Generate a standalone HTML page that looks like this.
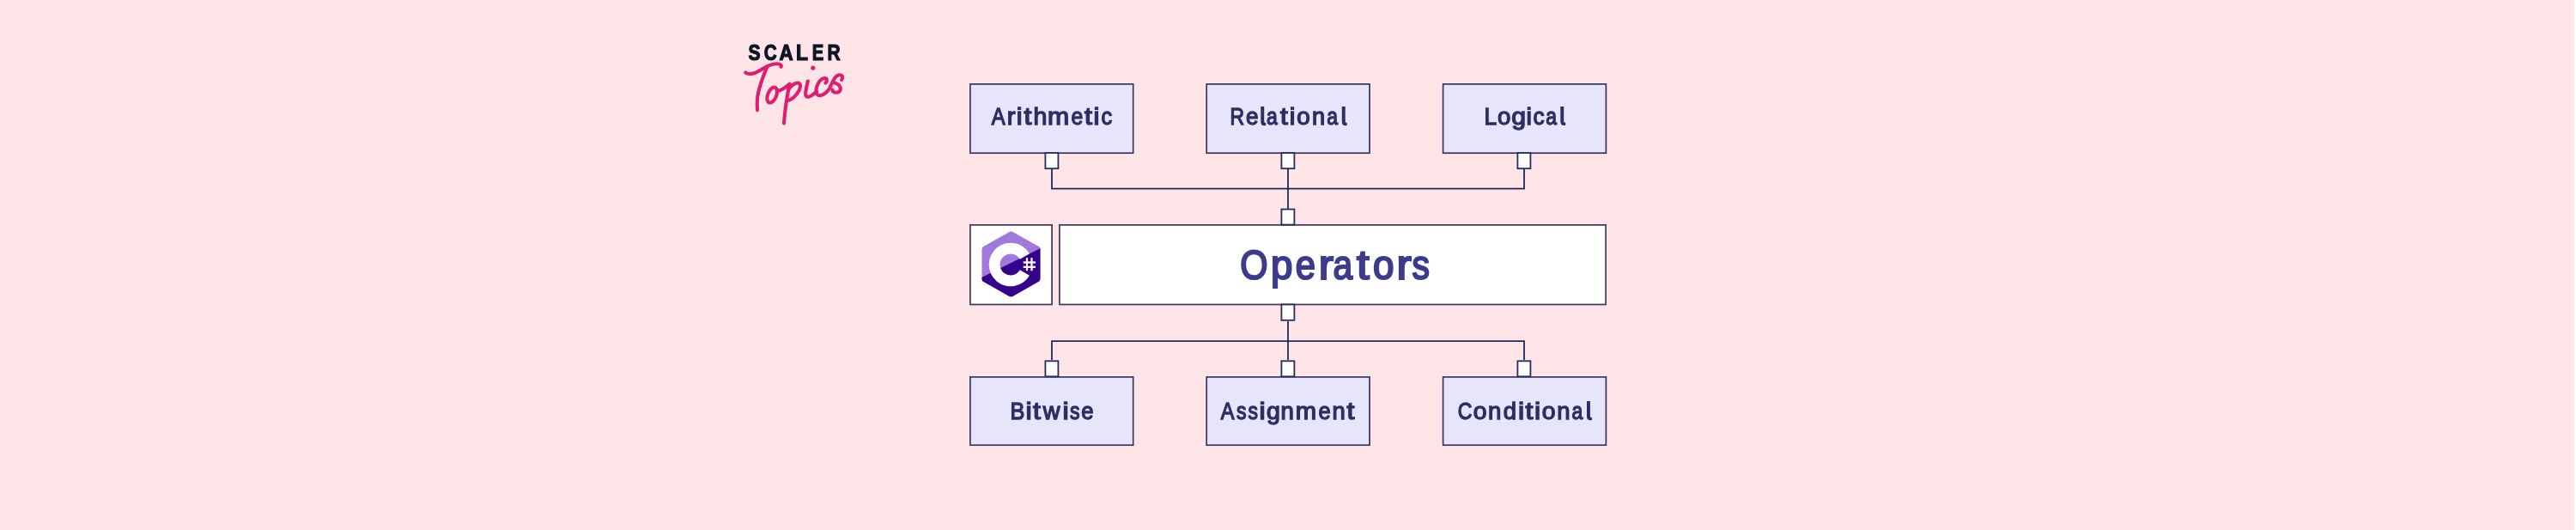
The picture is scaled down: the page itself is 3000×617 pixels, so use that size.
<!DOCTYPE html>
<html>
<head>
<meta charset="utf-8">
<style>
html,body{margin:0;padding:0;}
body{width:3000px;height:617px;background:#ffe4e8;overflow:hidden;position:relative;font-family:"Liberation Sans", sans-serif;}
svg{position:absolute;left:0;top:0;will-change:transform;}
</style>
</head>
<body>
<svg width="3000" height="617" viewBox="0 0 3000 617">
  <rect x="2994" y="0" width="4" height="617" fill="#fde6e9"/>
  <rect x="2998" y="0" width="2" height="617" fill="#fffffb"/>
  <g stroke="#1c2b5c" stroke-width="1.8" fill="none">
    <path d="M1225 197V219.7H1775V197"/>
    <path d="M1500 197V243"/>
    <path d="M1225 419V397.1H1775V419"/>
    <path d="M1500 374V419"/>
  </g>
  <g fill="#e7e5fc" stroke="#3a365f" stroke-width="1.7">
    <rect x="1129.9" y="97.9" width="189.8" height="80.3"/>
    <rect x="1405.2" y="97.9" width="189.8" height="80.3"/>
    <rect x="1680.6" y="97.9" width="189.8" height="80.3"/>
    <rect x="1129.9" y="438.9" width="189.8" height="79.3"/>
    <rect x="1405.2" y="438.9" width="189.8" height="79.3"/>
    <rect x="1680.6" y="438.9" width="189.8" height="79.3"/>
  </g>
  <g fill="#ffffff" stroke="#3a365f" stroke-width="1.7">
    <rect x="1129.9" y="261.9" width="95.2" height="92.6"/>
    <rect x="1233.9" y="261.9" width="636.2" height="92.6"/>
  </g>
  <g fill="#ffffff" stroke="#262c5c" stroke-width="1.8">
    <rect x="1217.4" y="178" width="15" height="18.2"/>
    <rect x="1492.4" y="178" width="15" height="18.2"/>
    <rect x="1767.4" y="178" width="15" height="18.2"/>
    <rect x="1492.4" y="243.6" width="15" height="18"/>
    <rect x="1492.4" y="354.5" width="15" height="18.3"/>
    <rect x="1217.4" y="420.3" width="15" height="18"/>
    <rect x="1492.4" y="420.3" width="15" height="18"/>
    <rect x="1767.4" y="420.3" width="15" height="18"/>
  </g>
  <g font-family="Liberation Sans" font-size="28" fill="#2f2d62" stroke="#2f2d62" stroke-width="1.4">
    <text transform="translate(1154.65 145.40) scale(0.849 1.000)">A</text>
    <text transform="translate(1172.80 145.42) scale(1.042 0.970)">r</text>
    <text transform="translate(1183.63 145.42) scale(1.093 0.970)">i</text>
    <text transform="translate(1192.40 145.42) scale(1.150 0.970)">t</text>
    <text transform="translate(1203.53 145.42) scale(1.019 0.970)">h</text>
    <text transform="translate(1220.12 145.42) scale(1.078 0.970)">m</text>
    <text transform="translate(1247.56 145.42) scale(0.883 0.970)">e</text>
    <text transform="translate(1263.10 145.42) scale(1.150 0.970)">t</text>
    <text transform="translate(1273.50 145.42) scale(1.120 0.970)">i</text>
    <text transform="translate(1282.45 145.42) scale(0.904 0.970)">c</text>
    <text transform="translate(1432.53 145.40) scale(0.820 1.000)">R</text>
    <text transform="translate(1451.03 145.42) scale(0.931 0.970)">e</text>
    <text transform="translate(1475.08 145.42) scale(0.820 0.970)">a</text>
    <text transform="translate(1490.88 145.42) scale(1.129 0.970)">t</text>
    <text transform="translate(1501.77 145.42) scale(1.067 0.970)">i</text>
    <text transform="translate(1510.20 145.42) scale(0.993 0.970)">o</text>
    <text transform="translate(1528.03 145.42) scale(0.970 0.970)">n</text>
    <text transform="translate(1545.23 145.42) scale(0.820 0.970)">a</text>
    <text transform="translate(1728.59 145.20) scale(0.938 1.000)">L</text>
    <text transform="translate(1743.91 145.22) scale(0.986 0.970)">o</text>
    <text transform="translate(1760.26 145.22) scale(1.079 0.970)">g</text>
    <text transform="translate(1777.50 145.22) scale(1.040 0.970)">i</text>
    <text transform="translate(1785.43 145.22) scale(0.933 0.970)">c</text>
    <text transform="translate(1800.23 145.22) scale(0.820 0.970)">a</text>
    <text transform="translate(1176.45 488.40) scale(0.903 1.000)">B</text>
    <text transform="translate(1194.41 488.42) scale(1.150 0.970)">i</text>
    <text transform="translate(1203.10 488.42) scale(1.150 0.970)">t</text>
    <text transform="translate(1214.78 488.42) scale(0.975 0.970)">w</text>
    <text transform="translate(1237.51 488.42) scale(1.150 0.970)">i</text>
    <text transform="translate(1246.00 488.42) scale(0.822 0.970)">s</text>
    <text transform="translate(1259.14 488.42) scale(0.917 0.970)">e</text>
    <text transform="translate(1421.84 488.40) scale(0.839 1.000)">A</text>
    <text transform="translate(1440.11 488.42) scale(0.820 0.970)">s</text>
    <text transform="translate(1453.51 488.42) scale(0.820 0.970)">s</text>
    <text transform="translate(1466.57 488.42) scale(1.147 0.970)">i</text>
    <text transform="translate(1474.99 488.42) scale(1.021 0.970)">g</text>
    <text transform="translate(1491.51 488.42) scale(0.985 0.970)">n</text>
    <text transform="translate(1508.66 488.42) scale(1.045 0.970)">m</text>
    <text transform="translate(1535.44 488.42) scale(0.910 0.970)">e</text>
    <text transform="translate(1551.42 488.42) scale(0.978 0.970)">n</text>
    <text transform="translate(1568.55 488.42) scale(1.150 0.970)">t</text>
    <text transform="translate(1697.68 488.40) scale(0.821 1.000)">C</text>
    <text transform="translate(1715.69 488.42) scale(1.014 0.970)">o</text>
    <text transform="translate(1733.11 488.42) scale(0.985 0.970)">n</text>
    <text transform="translate(1750.81 488.42) scale(0.979 0.970)">d</text>
    <text transform="translate(1768.01 488.42) scale(1.150 0.970)">i</text>
    <text transform="translate(1776.60 488.42) scale(1.150 0.970)">t</text>
    <text transform="translate(1787.11 488.42) scale(1.150 0.970)">i</text>
    <text transform="translate(1795.79 488.42) scale(1.014 0.970)">o</text>
    <text transform="translate(1813.22 488.42) scale(0.978 0.970)">n</text>
    <text transform="translate(1830.43 488.42) scale(0.820 0.970)">a</text>
    <path stroke="none" d="M1468.30 124.10H1472.20V140.90Q1472.20 143.00 1473.50 143.00L1474.20 142.90L1474.30 145.70Q1473.30 146.20 1472.10 146.20Q1468.30 146.20 1468.30 141.40ZM1562.80 124.10H1566.70V140.90Q1566.70 143.00 1568.00 143.00L1568.70 142.90L1568.80 145.70Q1567.80 146.20 1566.60 146.20Q1562.80 146.20 1562.80 141.40ZM1817.30 123.90H1821.20V140.70Q1821.20 142.80 1822.50 142.80L1823.20 142.70L1823.30 145.50Q1822.30 146.00 1821.10 146.00Q1817.30 146.00 1817.30 141.20ZM1848.00 467.10H1851.90V483.90Q1851.90 486.00 1853.20 486.00L1853.90 485.90L1854.00 488.70Q1853.00 489.20 1851.80 489.20Q1848.00 489.20 1848.00 484.40Z"/>
  </g>
  <g font-family="Liberation Sans" font-size="48" fill="#3d3b8a" stroke="#3d3b8a" stroke-width="2.2">
    <text transform="translate(1444.32 324.8) scale(0.866 1)">O</text>
<text transform="translate(1480.00 324.8) scale(0.952 1)">p</text>
<text transform="translate(1508.73 324.8) scale(0.869 1)">e</text>
<text transform="translate(1535.75 324.8) scale(1.074 1)">r</text>
<text transform="translate(1552.58 324.8) scale(0.850 1)">a</text>
<text transform="translate(1580.09 324.8) scale(1.100 1)">t</text>
<text transform="translate(1598.88 324.8) scale(0.917 1)">o</text>
<text transform="translate(1626.55 324.8) scale(1.074 1)">r</text>
<text transform="translate(1644.57 324.8) scale(0.850 1)">s</text>
  </g>
  <g font-family="Liberation Sans" font-weight="bold" font-size="26" fill="#0d1424" stroke="#0d1424" stroke-width="1.2">
    <text transform="translate(871.40 70.07) scale(0.812 0.969)">S</text>
    <text transform="translate(889.70 70.07) scale(0.795 0.969)">C</text>
    <text transform="translate(907.52 70.06) scale(0.862 0.982)">A</text>
    <text transform="translate(927.10 70.30) scale(0.883 0.995)">L</text>
    <text transform="translate(945.82 70.30) scale(0.781 0.995)">E</text>
    <text transform="translate(963.49 70.30) scale(0.806 0.995)">R</text>
  </g>
  <g fill="none" stroke="#de1e6e" stroke-width="4.1" stroke-linecap="round" stroke-linejoin="round">
    <path d="M868.2 84.4C871 87 878 86.5 885 82C892 77.5 899 74 905 74.3C909 74.5 910.5 76 909.5 77.8"/>
    <path d="M893.5 77.5C889 88 884 102 882.3 112C881.5 118 881.7 124 882 128.2"/>
    <ellipse cx="899.2" cy="110.6" rx="5" ry="9.4" transform="rotate(22 899.2 110.6)"/>
    <path d="M904.8 106C909.5 105.5 915 102 919.6 97.8"/>
    <path d="M919.6 97.8C917 110 914 128 913 143.5"/>
    <path d="M918.5 104C921.5 99 926.5 96 930 96.8C933 97.5 932.8 103 928.3 109C925.2 113 921 116.5 917 117"/>
    <path d="M940.8 94.5C939.8 99 938.3 105 938.1 109C938 112 939.5 113 941.5 112.7C944 112.3 948 109.5 951 106.8"/>
    <path d="M961.4 96.6C963.6 95 963.4 91.5 961 91.1C957 90.6 952.5 95.5 951 101.5C949.6 107.5 951.3 111.6 955 111.3C959.5 111 965 106.5 968.2 98.5C969.8 94.5 971.5 91.5 972.8 90C974.5 88 977 86.8 979.3 87.4C981.5 88 981.6 91 980.1 92.9"/>
    <path d="M970.5 96C974 96.5 978.5 99 978.8 103C979 106.5 976 108 973 107.8C971 107.6 969.5 106 969.3 104.5"/>
  </g>
  <circle cx="946.8" cy="79.1" r="2.6" fill="#de1e6e"/>
  <g transform="translate(1137.2 268.25) scale(0.63 0.6125)">
    <path fill="#a179dc" d="M117.5 33.5l.3-.2c-.6-1.1-1.5-2.1-2.4-2.6L67.1 2.9c-.8-.5-1.9-.7-3.1-.7-1.2 0-2.3.3-3.1.7l-48 27.9C11.2 31.8 10 34.3 10 36.2v55.7c0 1.1.2 2.3.9 3.4l-.2.1c.5.8 1.2 1.5 1.9 1.9l48.2 27.9c.8.5 1.9.7 3.1.7 1.2 0 2.3-.3 3.1-.7l48-27.9c1.7-1 2.9-3.5 2.9-5.4V36.1c.1-.9 0-1.8-.4-2.6z"/>
    <clipPath id="csclip"><path d="M0 94.3L128 28.95V128H0Z"/></clipPath>
    <path fill="#35008a" clip-path="url(#csclip)" d="M117.5 33.5l.3-.2c-.6-1.1-1.5-2.1-2.4-2.6L67.1 2.9c-.8-.5-1.9-.7-3.1-.7-1.2 0-2.3.3-3.1.7l-48 27.9C11.2 31.8 10 34.3 10 36.2v55.7c0 1.1.2 2.3.9 3.4l-.2.1c.5.8 1.2 1.5 1.9 1.9l48.2 27.9c.8.5 1.9.7 3.1.7 1.2 0 2.3-.3 3.1-.7l48-27.9c1.7-1 2.9-3.5 2.9-5.4V36.1c.1-.9 0-1.8-.4-2.6z"/>
  </g>
  <g transform="translate(1137 268) scale(0.625)">
    <path fill="#ffffff" d="M99.07 43.75A40.5 40.5 0 1 0 99.07 84.25L81.32 74A20 20 0 1 1 81.32 54Z"/>
    <g fill="#ffffff">
      <rect x="92.6" y="51.5" width="3.6" height="24"/>
      <rect x="101.4" y="51.5" width="3.6" height="24"/>
      <rect x="87.5" y="58.2" width="23" height="3.6"/>
      <rect x="87.5" y="66.7" width="23" height="3.6"/>
    </g>
  </g>
</svg>
</body>
</html>
